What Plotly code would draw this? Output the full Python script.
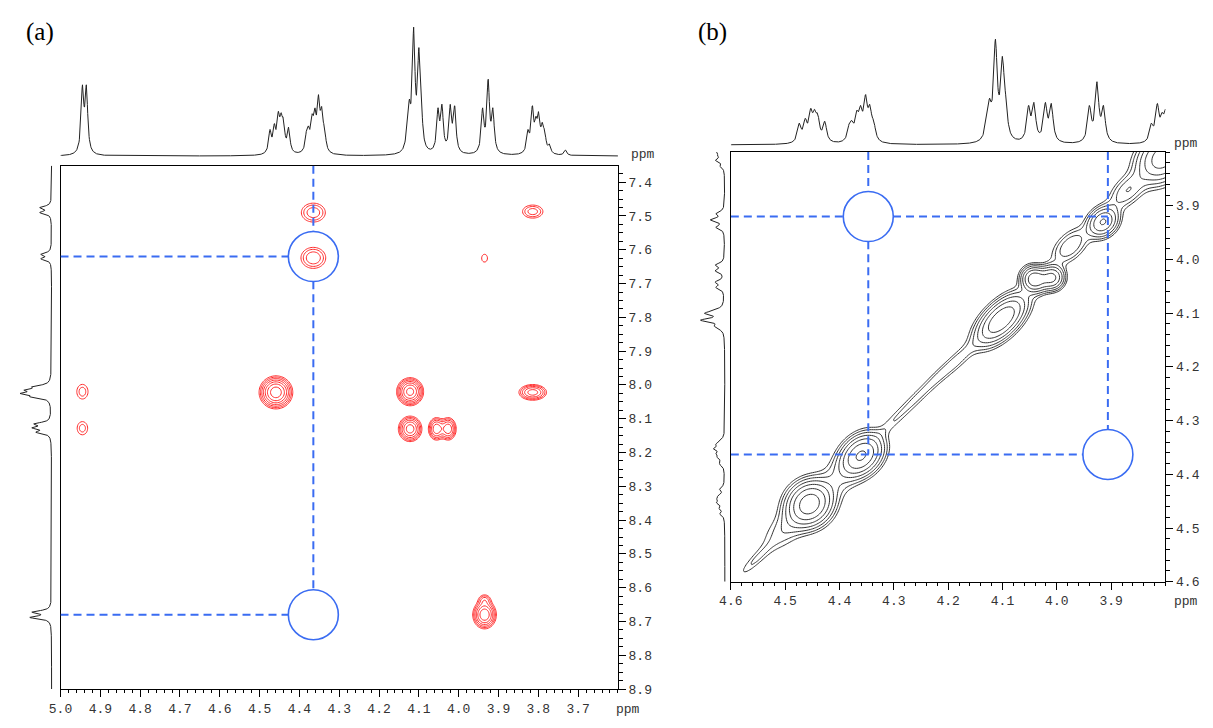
import numpy as np
import plotly.graph_objects as go

W, H = 1213, 728

# ---------------- data ----------------
# 1H lines (ppm) and observed peak heights (arbitrary units, panel b scale)
H1_PPM = [4.945, 4.935,
          4.474, 4.463, 4.453, 4.446, 4.440, 4.427,
          4.382, 4.377, 4.368, 4.361, 4.352, 4.344, 4.337,
          4.130, 4.124, 4.113, 4.100, 4.094,
          4.052, 4.042, 4.021, 4.010,
          3.940, 3.926, 3.914,
          3.826, 3.815, 3.806, 3.799, 3.790, 3.784, 3.772, 3.732]
H1_HEIGHT = [59, 59,
             22, 27, 37, 36, 32, 24,
             22, 25, 35, 40, 51, 41, 25,
             25, 47, 107, 90, 50,
             40, 43, 43, 42,
             40, 64, 40,
             22, 42, 33, 37, 28, 22, 10, 5]

# NH region (F1 of panel a) lines and depths
NH_PPM = [7.475, 7.490, 7.613, 7.627,
          8.005, 8.015, 8.025, 8.035,
          8.115, 8.127, 8.140,
          8.672, 8.688]
NH_DEPTH = [12, 12, 11, 11,
            20, 28, 32, 22,
            18, 20, 16,
            20, 22]

# panel (a) cross peaks: F2 ppm, F1 ppm, amplitude, width F2, width F1
A_X = [4.365, 4.365, 3.814, 3.935, 4.945, 4.945, 4.459, 4.122, 4.122, 4.056, 4.026, 3.814, 3.935, 3.935]
A_Y = [7.490, 7.624, 7.487, 7.625, 8.020, 8.128, 8.022, 8.020, 8.130, 8.130, 8.130, 8.022, 8.680, 8.636]
A_AMP = [2.8, 3.0, 2.6, 1.3, 1.8, 1.75, 12, 11, 8, 6, 6, 5.5, 9, 2.2]
A_SX = [0.0210, 0.0210, 0.0185, 0.0103, 0.0130, 0.0125, 0.0190, 0.0155, 0.0145, 0.0105, 0.0105, 0.0188, 0.0142, 0.0100]
A_SY = [0.0195, 0.0210, 0.0140, 0.0160, 0.0200, 0.0185, 0.0220, 0.0190, 0.0185, 0.0175, 0.0175, 0.0126, 0.0200, 0.0110]

# panel (b) diagonal peaks: F2 ppm, F1 ppm, amplitude, width along / across diagonal
B_X = [4.555, 4.495, 4.455, 4.405, 4.360, 4.300, 4.260, 4.220, 4.180, 4.102, 4.041, 4.009, 3.975, 3.915, 3.870, 3.805]
B_Y = [4.560, 4.497, 4.455, 4.410, 4.365, 4.300, 4.260, 4.220, 4.185, 4.112, 4.037, 4.034, 3.975, 3.930, 3.872, 3.810]
B_AMP = [1.6, 2.4, 22, 2.0, 18, 1.35, 1.45, 1.6, 1.9, 16, 15, 12, 4.0, 11, 4.0, 14]
B_SALONG = [0.030, 0.040, 0.024, 0.030, 0.025, 0.030, 0.030, 0.030, 0.030, 0.033, 0.013, 0.013, 0.025, 0.018, 0.025, 0.030]
B_SACROSS = [0.007, 0.018, 0.021, 0.020, 0.018, 0.008, 0.008, 0.008, 0.009, 0.016, 0.0135, 0.0125, 0.014, 0.014, 0.014, 0.022]

# tick labels
A_XTICKS = [5.0, 4.9, 4.8, 4.7, 4.6, 4.5, 4.4, 4.3, 4.2, 4.1, 4.0, 3.9, 3.8, 3.7]
A_YTICKS = [7.4, 7.5, 7.6, 7.7, 7.8, 7.9, 8.0, 8.1, 8.2, 8.3, 8.4, 8.5, 8.6, 8.7, 8.8, 8.9]
B_XTICKS = [4.6, 4.5, 4.4, 4.3, 4.2, 4.1, 4.0, 3.9]
B_YTICKS = [3.9, 4.0, 4.1, 4.2, 4.3, 4.4, 4.5, 4.6]

# marked correlations (dashed guides and circles)
A_MARK_X = 4.365
A_MARK_Y = [7.62, 8.68]
B_MARK_X = [4.347, 3.906]
B_MARK_Y = [3.92, 4.363]

# ---------------- layout constants (pixels) ----------------
A_L, A_R, A_T, A_B = 49, 612, 167.7, 697.7
A_XR = [5.0, 3.6]
A_YR = [8.9, 7.351]
B_L, B_R, B_T, B_B = 726, 1165, 154, 589
B_XR = [4.6, 3.8]
B_YR = [4.6, 3.8]


def dx(p0, p1):
    return [p0 / W, p1 / W]


def dy(top, bottom):
    return [1 - bottom / H, 1 - top / H]


def fit_amps(centers, heights, hw):
    c = np.array(centers)
    L = 1.0 / (1.0 + ((c[:, None] - c[None, :]) / hw) ** 2)
    a = np.linalg.lstsq(L, np.array(heights, float), rcond=None)[0]
    return np.clip(a, 0, None)


def lor(grid, centers, amps, hw):
    out = np.zeros_like(grid)
    for c, a in zip(centers, amps):
        out += a / (1.0 + ((grid - c) / hw) ** 2)
    return out


HW = 0.004
HW_NH = 0.005
amps_h1 = fit_amps(H1_PPM, H1_HEIGHT, HW)
amps_nh = fit_amps(NH_PPM, NH_DEPTH, HW_NH)

fig = go.Figure()

SPEC = dict(color="#222222", width=1)

ga = np.linspace(3.6, 5.0, 1600)
fig.add_trace(go.Scatter(x=ga, y=lor(ga, H1_PPM, amps_h1, HW), mode="lines", line=SPEC,
                         xaxis="x3", yaxis="y3", hoverinfo="skip", showlegend=False))
gya = np.linspace(7.351, 8.9, 1600)
fig.add_trace(go.Scatter(x=lor(gya, NH_PPM, amps_nh, HW_NH), y=gya, mode="lines", line=SPEC,
                         xaxis="x4", yaxis="y4", hoverinfo="skip", showlegend=False))
gb = np.linspace(3.8, 4.6, 1200)
fig.add_trace(go.Scatter(x=gb, y=lor(gb, H1_PPM, amps_h1, HW), mode="lines", line=SPEC,
                         xaxis="x5", yaxis="y5", hoverinfo="skip", showlegend=False))
fig.add_trace(go.Scatter(x=0.23 * lor(gb, H1_PPM, amps_h1, HW), y=gb, mode="lines", line=SPEC,
                         xaxis="x6", yaxis="y6", hoverinfo="skip", showlegend=False))

# 2D contours panel a
xa = np.arange(3.58, 5.02, 0.0035)
ya = np.arange(7.33, 8.92, 0.0035)
XA, YA = np.meshgrid(xa, ya)
ZA = np.zeros_like(XA)
for x0, y0, a, sx, sy in zip(A_X, A_Y, A_AMP, A_SX, A_SY):
    ZA += a * np.exp(-((XA - x0) ** 2 / (2 * sx ** 2) + (YA - y0) ** 2 / (2 * sy ** 2)))
ZA = np.log(ZA + 1e-4).astype(np.float32)
fig.add_trace(go.Contour(x=xa, y=ya, z=ZA, autocontour=False,
                         contours=dict(start=0.0, end=4.0, size=np.log(1.45), coloring="none"),
                         line=dict(color="#ff2a2a", width=1), showscale=False,
                         hoverinfo="skip", xaxis="x", yaxis="y"))

# 2D contours panel b
xb = np.arange(3.76, 4.64, 0.0035)
yb = np.arange(3.76, 4.64, 0.0035)
XB, YB = np.meshgrid(xb, yb)
ZB = np.zeros_like(XB)
for x0, y0, a, sa, sc in zip(B_X, B_Y, B_AMP, B_SALONG, B_SACROSS):
    U = ((XB - x0) + (YB - y0)) / np.sqrt(2)
    V = ((XB - x0) - (YB - y0)) / np.sqrt(2)
    ZB += a * np.exp(-(U ** 2 / (2 * sa ** 2) + V ** 2 / (2 * sc ** 2)))
ZB = np.log(ZB + 1e-4).astype(np.float32)
fig.add_trace(go.Contour(x=xb, y=yb, z=ZB, autocontour=False,
                         contours=dict(start=0.0, end=4.0, size=np.log(1.6), coloring="none"),
                         line=dict(color="#333333", width=1), showscale=False,
                         hoverinfo="skip", xaxis="x2", yaxis="y2"))

TICKFONT = dict(family="Liberation Mono, Courier New, monospace", size=13, color="#333333")
common = dict(showgrid=False, zeroline=False, showline=True, linecolor="black", linewidth=1,
              mirror=True, ticks="outside", ticklen=7, tickwidth=1, tickcolor="black",
              tickfont=TICKFONT, tickmode="array")
hidden = dict(visible=False, showgrid=False, zeroline=False)

layout = dict(
    width=W, height=H, margin=dict(l=0, r=0, t=0, b=0), autosize=False,
    paper_bgcolor="white", plot_bgcolor="rgba(0,0,0,0)", showlegend=False,
    xaxis=dict(common, domain=dx(A_L, A_R), range=A_XR, anchor="y",
               tickvals=A_XTICKS, ticktext=[f"{v:.1f}" for v in A_XTICKS],
               minor=dict(tickmode="linear", tick0=5.0, dtick=0.02, ticklen=3, ticks="outside", tickcolor="black")),
    yaxis=dict(common, domain=dy(A_T, A_B), range=A_YR, anchor="x", side="right",
               tickvals=A_YTICKS, ticktext=[f"{v:.1f}" for v in A_YTICKS],
               minor=dict(tickmode="linear", tick0=7.4, dtick=0.025, ticklen=4, ticks="outside", tickcolor="black")),
    xaxis2=dict(common, domain=dx(B_L, B_R), range=B_XR, anchor="y2",
                tickvals=B_XTICKS, ticktext=[f"{v:.1f}" for v in B_XTICKS],
                minor=dict(tickmode="linear", tick0=4.6, dtick=0.02, ticklen=3, ticks="outside", tickcolor="black")),
    yaxis2=dict(common, domain=dy(B_T, B_B), range=B_YR, anchor="x2", side="right",
                tickvals=B_YTICKS, ticktext=[f"{v:.1f}" for v in B_YTICKS],
                minor=dict(tickmode="linear", tick0=3.8, dtick=0.02, ticklen=4, ticks="outside", tickcolor="black")),
    xaxis3=dict(hidden, domain=dx(A_L, A_R), range=A_XR, anchor="y3"),
    yaxis3=dict(hidden, domain=dy(18, 167), range=[-9 / 1.22, 140 / 1.22], anchor="x3"),
    xaxis4=dict(hidden, domain=dx(0, 48), range=[40, -8], anchor="y4"),
    yaxis4=dict(hidden, domain=dy(A_T, A_B), range=A_YR, anchor="x4"),
    xaxis5=dict(hidden, domain=dx(B_L, B_R), range=B_XR, anchor="y5"),
    yaxis5=dict(hidden, domain=dy(30, 154), range=[-7.3, 116.7], anchor="x5"),
    xaxis6=dict(hidden, domain=dx(688, 726), range=[32, -6], anchor="y6"),
    yaxis6=dict(hidden, domain=dy(B_T, B_B), range=B_YR, anchor="x6"),
)
fig.update_layout(**layout)

BLUE = "#3a6cf2"
DASH = dict(color=BLUE, width=2, dash="8px,5px")
R = 25
a_px_x = (A_XR[0] - A_XR[1]) / (A_R - A_L)
a_px_y = (A_YR[0] - A_YR[1]) / (A_B - A_T)
b_px_x = (B_XR[0] - B_XR[1]) / (B_R - B_L)
b_px_y = (B_YR[0] - B_YR[1]) / (B_B - B_T)

shapes = []
mx = A_MARK_X
y1, y2 = A_MARK_Y
shapes.append(dict(type="line", xref="x", yref="y", x0=mx, x1=mx, y0=A_YR[1], y1=y1 - R * a_px_y, line=DASH))
shapes.append(dict(type="line", xref="x", yref="y", x0=mx, x1=mx, y0=y1 + R * a_px_y, y1=y2 - R * a_px_y, line=DASH))
for yy in A_MARK_Y:
    shapes.append(dict(type="line", xref="x", yref="y", x0=A_XR[0], x1=mx + R * a_px_x, y0=yy, y1=yy, line=DASH))
    shapes.append(dict(type="circle", xref="x", yref="y", xsizemode="pixel", ysizemode="pixel",
                       xanchor=mx, yanchor=yy, x0=-R, x1=R, y0=-R, y1=R,
                       line=dict(color=BLUE, width=1.6)))
bx1, bx2 = B_MARK_X
by1, by2 = B_MARK_Y
shapes += [
    dict(type="line", xref="x2", yref="y2", x0=bx1, x1=bx1, y0=B_YR[1], y1=by1 - R * b_px_y, line=DASH),
    dict(type="line", xref="x2", yref="y2", x0=bx1, x1=bx1, y0=by1 + R * b_px_y, y1=by2, line=DASH),
    dict(type="line", xref="x2", yref="y2", x0=B_XR[0], x1=bx1 + R * b_px_x, y0=by1, y1=by1, line=DASH),
    dict(type="line", xref="x2", yref="y2", x0=bx1 - R * b_px_x, x1=bx2, y0=by1, y1=by1, line=DASH),
    dict(type="line", xref="x2", yref="y2", x0=B_XR[0], x1=bx2 + R * b_px_x, y0=by2, y1=by2, line=DASH),
    dict(type="line", xref="x2", yref="y2", x0=bx2, x1=bx2, y0=B_YR[1], y1=by2 - R * b_px_y, line=DASH),
]
for cx, cy in [(bx1, by1), (bx2, by2)]:
    shapes.append(dict(type="circle", xref="x2", yref="y2", xsizemode="pixel", ysizemode="pixel",
                       xanchor=cx, yanchor=cy, x0=-R, x1=R, y0=-R, y1=R,
                       line=dict(color=BLUE, width=1.6)))
fig.update_layout(shapes=shapes)

SERIF = dict(family="Liberation Serif, Times New Roman, serif", size=25, color="black")
MONO = dict(family="Liberation Mono, Courier New, monospace", size=13, color="#333333")
annotations = [dict(text=t, x=px / W, y=1 - 32 / H, xref="paper", yref="paper", showarrow=False,
                    xanchor="center", yanchor="middle", font=SERIF) for t, px in [("(a)", 28), ("(b)", 708)]]
for px, py in [(637, 156), (622, 718), (1186, 145), (1186, 609)]:
    annotations.append(dict(text="ppm", x=px / W, y=1 - py / H, xref="paper", yref="paper", showarrow=False,
                            xanchor="center", yanchor="middle", font=MONO))
fig.update_layout(annotations=annotations)

fig.write_html("out.html")
